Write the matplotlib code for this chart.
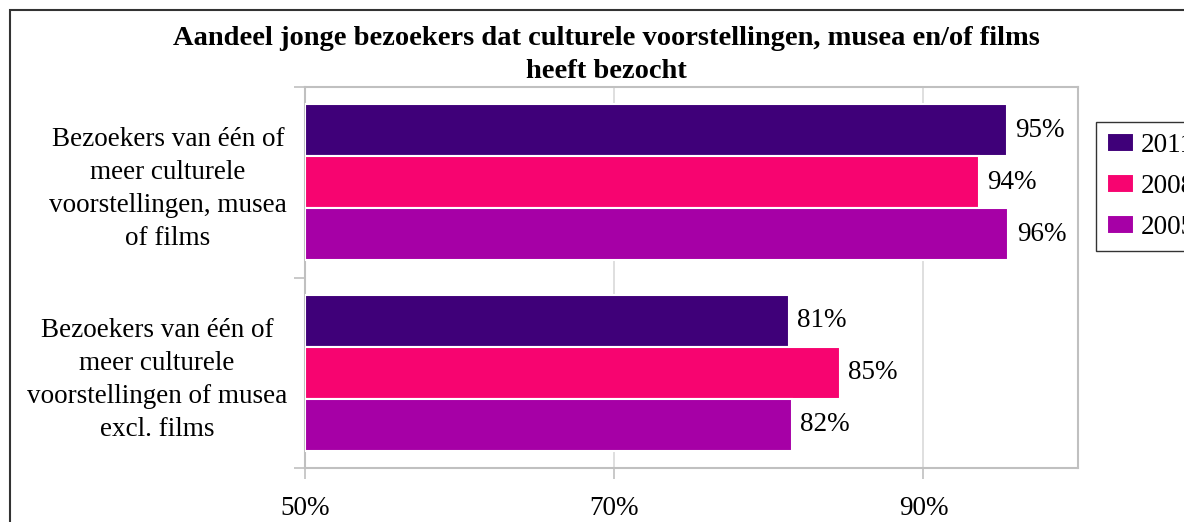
import matplotlib
matplotlib.use("Agg")
import matplotlib.pyplot as plt
from matplotlib.patches import Rectangle

categories = [
    "Bezoekers van één of\nmeer culturele\nvoorstellingen of musea\nexcl. films",
    "Bezoekers van één of\nmeer culturele\nvoorstellingen, musea\nof films",
]
years = ["2011", "2008", "2005"]
values = {
    "2011": [81.3, 95.4],
    "2008": [84.6, 93.6],
    "2005": [81.5, 95.5],
}
labels = {
    "2011": ["81%", "95%"],
    "2008": ["85%", "94%"],
    "2005": ["82%", "96%"],
}
colors = {"2011": "#3F0079", "2008": "#F70470", "2005": "#A600A6"}
xticks = [50, 70, 90]

plt.rcParams['font.family'] = ['Liberation Serif', 'DejaVu Serif']
fs = 19.5

fig = plt.figure(figsize=(11.84, 5.22), dpi=100)
ax = fig.add_axes([305 / 1184, 1 - 468 / 522, 773 / 1184, 381 / 522])

h = 0.273
offsets = {"2011": h, "2008": 0.0, "2005": -h}
handles = []
for yr in years:
    pos = [i + offsets[yr] for i in range(len(categories))]
    bars = ax.barh(pos, [v - 50 for v in values[yr]], left=50, height=h,
                   color=colors[yr], edgecolor="white", linewidth=1.5,
                   label=yr, zorder=3)
    handles.append(bars)
    for p, v, lab in zip(pos, values[yr], labels[yr]):
        ax.text(v + 0.55, p, lab, va="center", ha="left", fontsize=fs)

ax.set_xlim(50, 100)
ax.set_ylim(-0.5, 1.5)
ax.set_xticks(xticks)
ax.set_xticklabels([f"{t}%" for t in xticks], fontsize=fs)
ax.tick_params(axis="x", length=8, color="#c0c0c0", width=1.2, pad=12)
ax.set_yticks([-0.5, 0.5, 1.5])
ax.set_yticklabels([])
ax.tick_params(axis="y", length=8, color="#c0c0c0", width=1.2)
ax.set_yticks([0, 1], minor=True)
ax.set_yticklabels(categories, minor=True, fontsize=fs, ha="right",
                   multialignment="center", linespacing=1.42)
ax.tick_params(axis="y", which="minor", length=0, pad=13)
ax.grid(axis="x", color="#d9d9d9", linewidth=1.2, zorder=0)
for s in ax.spines.values():
    s.set_color("#c0c0c0")
    s.set_linewidth(1.5)

fig.text(606 / 1184, 1 - 26 / 522,
         "Aandeel jonge bezoekers dat culturele voorstellingen, musea en/of films\nheeft bezocht",
         ha="center", va="top", fontsize=20.5, fontweight="bold", linespacing=1.42)

leg = fig.legend(handles=handles, labels=years, loc="upper left",
                 bbox_to_anchor=(1096 / 1184, 1 - 122 / 522), fontsize=fs,
                 frameon=True, fancybox=False, edgecolor="black",
                 handlelength=1.0, handleheight=0.7, labelspacing=0.6,
                 borderpad=0.4, borderaxespad=0, handletextpad=0.25)
leg.get_frame().set_linewidth(1.0)

fig.add_artist(Rectangle((10 / 1184, -0.2), 1.2, 1.2 - 10 / 522,
                         transform=fig.transFigure, fill=False,
                         edgecolor="#333333", linewidth=1.5))

fig.savefig("out.png", dpi=100)
